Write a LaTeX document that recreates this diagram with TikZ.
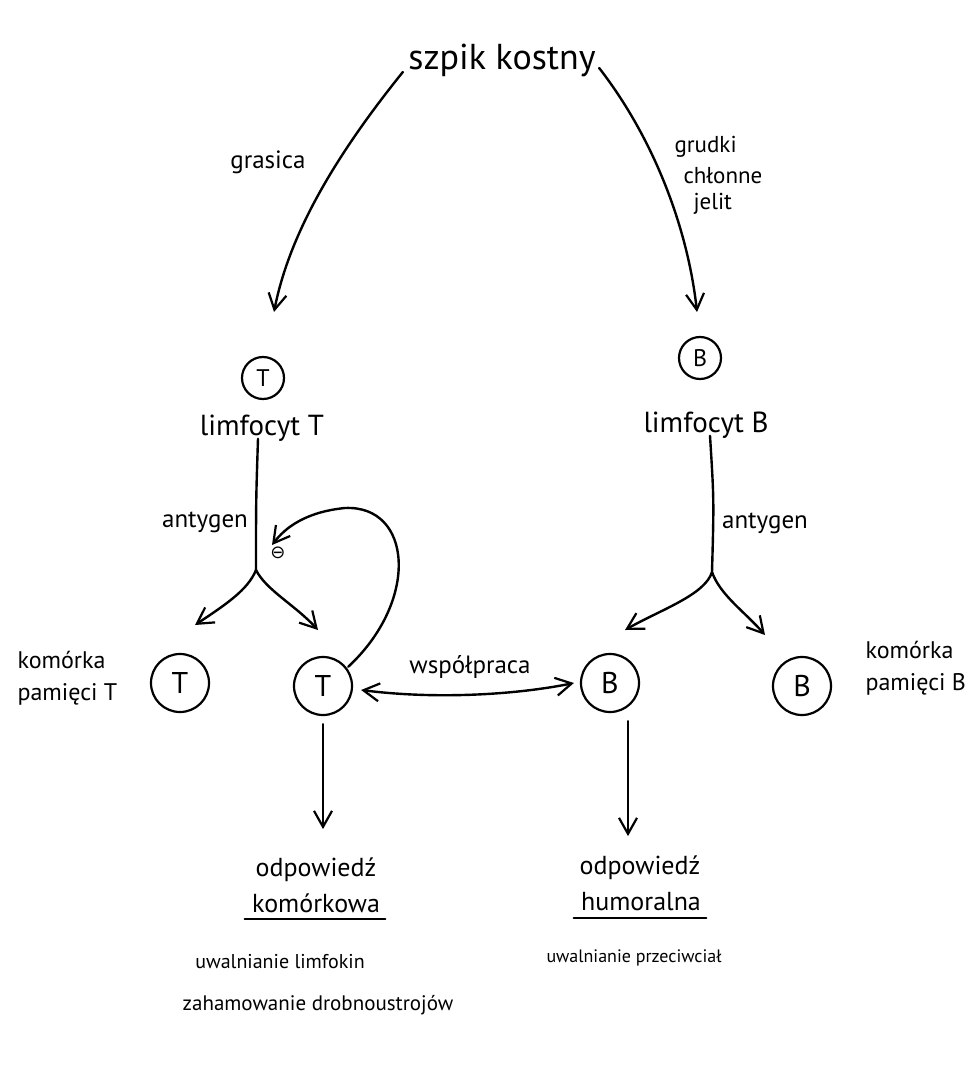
\documentclass[tikz,border=0pt]{standalone}
\usepackage{fontspec}
\setmainfont{PT Sans}
\newfontfamily\symfont{DejaVu Sans}
\usetikzlibrary{arrows.meta}
\begin{document}
\begin{tikzpicture}[x=1pt,y=-1pt,
  ink/.style={line width=2.4pt,line cap=round,line join=round},
  arr/.style={ink,-{Straight Barb[length=16pt,width=18pt,line width=2.2pt]}},
  darr/.style={ink,{Straight Barb[length=16pt,width=18pt,line width=2.2pt]}-{Straight Barb[length=16pt,width=18pt,line width=2.2pt]}},
  cell/.style={circle,draw,line width=2.2pt,minimum size=58pt,inner sep=0pt,font=\fontsize{30}{30}\selectfont},
  smallcell/.style={circle,draw,line width=2.2pt,minimum size=42pt,inner sep=0pt,font=\fontsize{24}{24}\selectfont},
  big/.style={font=\fontsize{36}{40}\selectfont},
  mid/.style={font=\fontsize{29}{30}\selectfont},
  lab/.style={font=\fontsize{25}{28}\selectfont,align=center},
  side/.style={font=\fontsize{24}{32}\selectfont,align=left,anchor=west},
  head/.style={font=\fontsize{26}{30}\selectfont},
  note/.style={font=\fontsize{20}{24}\selectfont}]
\useasboundingbox (0,0) rectangle (968,1067);

% source
\node[big] (szpik) at (502,60) {szpik kostny};

% T branch
\node[smallcell] (T0) at (263,378) {T};
\node[mid] (limT) at (262,428) {limfocyt T};
\coordinate (jT) at (256,570);
\coordinate (fbT) at (272,545);
\coordinate (tipTm) at (195,625);
\coordinate (tipTa) at (318,630);
\node[cell] (Tmem) at (180,683) {T};
\node[cell] (Tact) at (323,686) {T};

% B branch
\node[smallcell] (B0) at (700,358) {B};
\node[mid] (limB) at (706,425) {limfocyt B};
\coordinate (jB) at (712,572);
\coordinate (tipBa) at (625,630);
\coordinate (tipBm) at (765,635);
\node[cell] (Bact) at (610,683) {B};
\node[cell] (Bmem) at (802,686) {B};

% side labels
\node[lab] (grasica) at (268,162) {grasica};
\node[side,font=\fontsize{23}{26}\selectfont] (gr1) at (671,147) {grudki};
\node[side,font=\fontsize{23}{26}\selectfont] (gr2) at (680,176) {chłonne};
\node[side,font=\fontsize{23}{26}\selectfont] (gr3) at (690,204) {jelit};
\node[lab] (antT) at (205,522) {antygen};
\node[lab] (antB) at (765,523) {antygen};
\node[side] (memT) at (14,678) {komórka\\pamięci T};
\node[side] (memB) at (862,668) {komórka\\pamięci B};
\node[lab] (wsp) at (470,667) {współpraca};
\node[font=\fontsize{18}{18}\symfont] (minus) at (278,553) {⊖};

% responses
\node[head] (odpT) at (316,870) {odpowiedź};
\node[head] (komT) at (316,903) {komórkowa};
\node[note] (effT1) at (280,962) {uwalnianie limfokin};
\node[note,font=\fontsize{21}{24}\selectfont] (effT2) at (318,1005) {zahamowanie drobnoustrojów};
\node[head] (odpB) at (640,868) {odpowiedź};
\node[head] (humB) at (641,902) {humoralna};
\node[note,font=\fontsize{18}{24}\selectfont] (effB) at (634,958) {uwalnianie przeciwciał};
\draw[ink,line width=2pt] ([xshift=-4pt,yshift=-3pt]komT.south west) -- ([xshift=2pt,yshift=-3pt]komT.south east);
\draw[ink,line width=2pt] ([xshift=-4pt,yshift=-3pt]humB.south west) -- ([xshift=2pt,yshift=-3pt]humB.south east);

% connectors
\draw[arr] (szpik.south west) ++(-2pt,8pt) .. controls (340,150) and (290,230) .. (274,312);
\draw[arr] (szpik.south east) ++(0pt,12pt) .. controls (655,140) and (688,230) .. (697,312);
\draw[ink] (limT.south) ++(-4pt,6pt) .. controls (256,500) .. (jT);
\draw[arr] (jT) .. controls (248,590) and (225,605) .. (tipTm);
\draw[arr] (jT) .. controls (266,590) and (295,605) .. (tipTa);
\draw[ink] (limB.south) ++(4pt,6pt) .. controls (714,500) .. (jB);
\draw[arr] (jB) .. controls (705,595) and (660,610) .. (tipBa);
\draw[arr] (jB) .. controls (720,595) and (745,612) .. (tipBm);
\draw[arr] (Tact.north east) ++(4pt,-2pt) .. controls (420,600) and (412,505) .. (345,508) .. controls (305,512) and (285,528) .. (fbT);
\draw[darr] (Tact.east) ++(8pt,-4pt) .. controls (440,700) and (520,694) .. ([xshift=-6pt]Bact.west);
\draw[arr] (Tact.south) ++(0,8) -- ++(0,105);
\draw[arr] (Bact.south) ++(18,8) -- ++(0,115);
\end{tikzpicture}
\end{document}
